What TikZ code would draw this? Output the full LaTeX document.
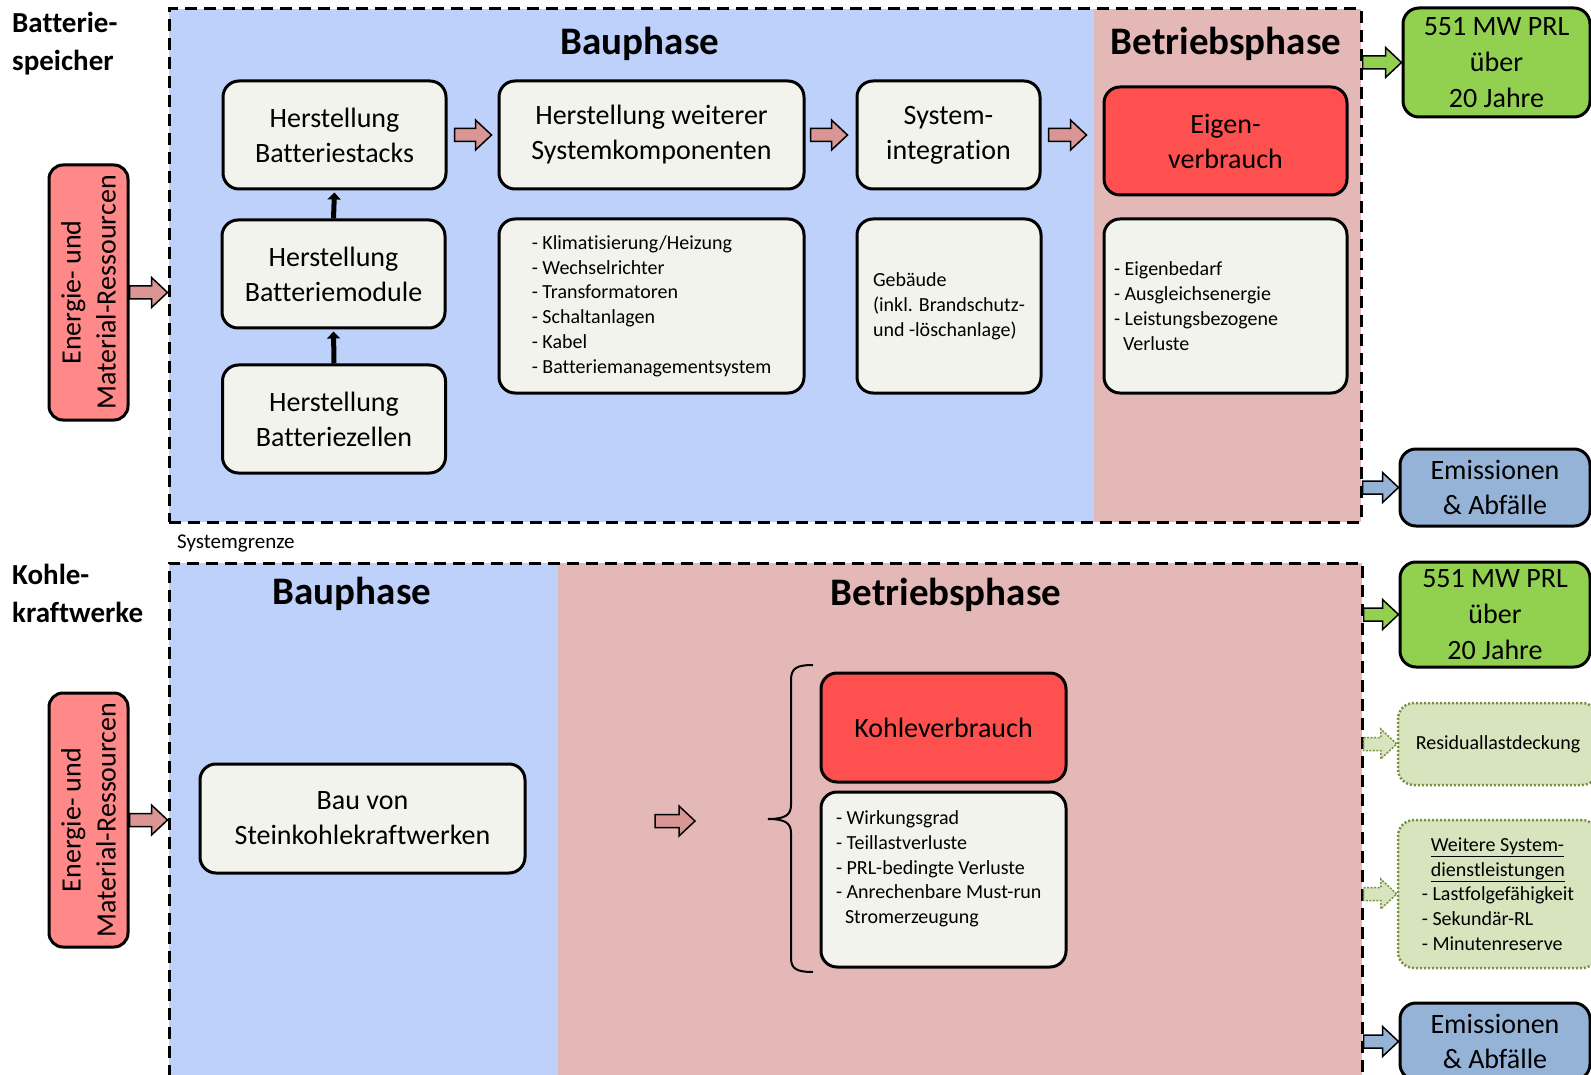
\documentclass[tikz,border=0pt]{standalone}
\usepackage{fontspec}
\setmainfont{Carlito}[Ligatures=NoCommon]
\usetikzlibrary{calc,arrows.meta}

\definecolor{bluebg}{RGB}{190,209,250}
\definecolor{pinkbg}{RGB}{229,184,184}
\definecolor{boxfill}{RGB}{243,243,237}
\definecolor{enfill}{RGB}{255,136,136}
\definecolor{redfill}{RGB}{255,80,80}
\definecolor{grfill}{RGB}{146,208,80}
\definecolor{emfill}{RGB}{149,179,215}
\definecolor{arrpink}{RGB}{217,150,148}
\definecolor{ltgreen}{RGB}{215,228,189}
\definecolor{olivedot}{RGB}{118,146,60}

\tikzset{
  box/.style={draw=black, line width=3pt, rounded corners=16pt, fill=boxfill,
    align=center, inner sep=0pt, font=\fontsize{28}{35}\selectfont},
  listbox/.style={box, align=flush left, font=\fontsize{20}{24.8}\selectfont},
  redbox/.style={box, fill=redfill},
  enbox/.style={box, fill=enfill, rounded corners=14pt},
  grbox/.style={box, fill=grfill, font=\fontsize{28}{36}\selectfont},
  embox/.style={box, fill=emfill},
  dotbox/.style={draw=olivedot, line width=2.5pt, dash pattern=on 2pt off 2pt,
    rounded corners=16pt, fill=ltgreen, align=flush left, inner sep=0pt,
    font=\fontsize{20}{24.8}\selectfont},
  sysbox/.style={draw=black, line width=3pt, dash pattern=on 12pt off 7pt, inner sep=0pt},
  ttl/.style={font=\bfseries\fontsize{39}{42}\selectfont, inner sep=0pt},
  side/.style={font=\bfseries\fontsize{29}{38}\selectfont, align=flush left, inner sep=0pt},
  parr/.style={fill=arrpink, draw=black, line width=1.5pt},
  garr/.style={fill=grfill, draw=black, line width=1.5pt},
  barr/.style={fill=emfill, draw=black, line width=1.5pt},
  darr/.style={fill=ltgreen, draw=olivedot, line width=1.5pt, dash pattern=on 2pt off 1.5pt},
  blk/.style={line width=5pt, shorten >=2pt, -{Triangle[width=13pt,length=7pt]}}
}

\newcommand\blockarr[3]{\path[#1] let \p1=(#2), \p2=(#3) in
  (\x1,\y1+6.5pt) -- (\x2-16pt,\y1+6.5pt) -- (\x2-16pt,\y1+15pt) -- (\x2,\y1)
  -- (\x2-16pt,\y1-15pt) -- (\x2-16pt,\y1-6.5pt) -- (\x1,\y1-6.5pt) -- cycle;}

\begin{document}
\begin{tikzpicture}[x=1pt,y=-1pt]
\useasboundingbox (0,0) rectangle (1591,1075);

% backgrounds
\fill[bluebg] (169,9) rectangle (1094,522);
\fill[pinkbg] (1094,9) rectangle (1361,522);
\fill[bluebg] (169,563) rectangle (558,1095);
\fill[pinkbg] (558,563) rectangle (1362,1095);
\node[sysbox, minimum width=1192pt, minimum height=513pt] (sys1) at (765,265.5) {};
\node[sysbox, minimum width=1193pt, minimum height=532pt] (sys2) at (765.5,829) {};

% side labels
\node[side, anchor=west] (lb1) at (12,44) {Batterie-\\speicher};
\node[side, anchor=west] (lb2) at (12,593) {Kohle-\\kraftwerke};
\node[anchor=west, inner sep=0pt, font=\fontsize{21}{24}\selectfont] (sg) at (177,543) {Systemgrenze};

% titles
\node[ttl] (t1) at (640,44) {Bauphase};
\node[ttl] (t2) at (1226,44) {Betriebsphase};
\node[ttl] (t3) at (352,594) {Bauphase};
\node[ttl] (t4) at (946,595) {Betriebsphase};

% top section
\node[box, minimum width=223pt, minimum height=108pt] (stacks) at (334.5,135) {Herstellung\\Batteriestacks};
\node[box, minimum width=223pt, minimum height=108pt] (mod) at (333.5,274) {Herstellung\\Batteriemodule};
\node[box, minimum width=223pt, minimum height=108pt] (zel) at (334,419) {Herstellung\\Batteriezellen};
\node[box, minimum width=305pt, minimum height=108pt] (weit) at (651.5,135) {Herstellung weiterer\\Systemkomponenten};
\node[box, minimum width=183pt, minimum height=108pt] (sysint) at (948.5,135) {System-\\integration};
\node[redbox, minimum width=243pt, minimum height=108pt] (eigen) at (1225.5,141) {Eigen-\\verbrauch};

\node[listbox, minimum width=305pt, minimum height=174pt] (list1) at (651.5,306)
  {- Klimatisierung/Heizung\\- Wechselrichter\\- Transformatoren\\- Schaltanlagen\\- Kabel\\- Batteriemanagementsystem};
\node[listbox, minimum width=184pt, minimum height=174pt] (geb) at (949,306)
  {Gebäude\\(inkl. Brandschutz-\\und -löschanlage)};
\node[listbox, minimum width=243pt, minimum height=174pt, text width=223pt, inner xsep=10pt] (elist) at (1225.5,306)
  {- Eigenbedarf\\- Ausgleichsenergie\\- Leistungsbezogene\\\hspace*{9pt}Verluste};

\node[enbox, rotate=90, minimum width=255pt, minimum height=79pt] (en1) at (88.5,292.5) {Energie- und\\Material-Ressourcen};

\node[grbox, minimum width=187pt, minimum height=109pt] (g1) at (1496.5,62.5) {551 MW PRL\\über\\20 Jahre};
\node[embox, minimum width=190pt, minimum height=77pt] (em1) at (1495,487.5) {Emissionen\\\& Abfälle};

% top arrows
\draw[blk] (mod.north) -- (stacks.south);
\draw[blk] (zel.north) -- (mod.south);
\blockarr{parr}{$(stacks.east)+(7,0)$}{$(weit.west)+(-6,0)$}
\blockarr{parr}{$(weit.east)+(5,0)$}{$(sysint.west)+(-8,0)$}
\blockarr{parr}{$(sysint.east)+(7,0)$}{$(eigen.west)+(-16,0)$}
\blockarr{parr}{en1.south}{sys1.west |- en1.south}
\blockarr{garr}{sys1.east |- g1.west}{g1.west}
\blockarr{barr}{sys1.east |- em1.west}{em1.west}

% bottom section
\node[enbox, rotate=90, minimum width=254pt, minimum height=79pt] (en2) at (88.5,820) {Energie- und\\Material-Ressourcen};
\node[box, minimum width=325pt, minimum height=109pt] (bau) at (362.5,818.5) {Bau von\\Steinkohlekraftwerken};
\node[redbox, minimum width=245pt, minimum height=109pt] (kohle) at (943.5,727.5) {Kohleverbrauch};
\node[listbox, minimum width=245pt, minimum height=175pt, text width=215pt, inner xsep=15pt] (klist) at (943.5,879.5)
  {- Wirkungsgrad\\- Teillastverluste\\- PRL-bedingte Verluste\\- Anrechenbare Must-run\\\hspace*{9pt}Stromerzeugung\\\mbox{}};

\node[grbox, minimum width=190pt, minimum height=105pt] (g2) at (1495,614.5) {551 MW PRL\\über\\20 Jahre};
\node[dotbox, minimum width=200pt, minimum height=82pt] (res) at (1498,744) {Residuallastdeckung};
\node[dotbox, minimum width=200pt, minimum height=148pt] (ws) at (1498,894)
  {\hspace*{9pt}\underline{Weitere System-}\\\hspace*{9pt}\underline{dienstleistungen}\\- Lastfolgefähigkeit\\- Sekundär-RL\\- Minutenreserve};
\node[embox, minimum width=190pt, minimum height=77pt] (em2) at (1495,1041.5) {Emissionen\\\& Abfälle};

\coordinate (sa) at (655,821);
\coordinate (sb) at (695,821);
\blockarr{parr}{sa}{sb}
\blockarr{parr}{en2.south}{sys2.west |- en2.south}
\blockarr{garr}{sys2.east |- g2.west}{g2.west}
\blockarr{darr}{sys2.east |- res.west}{res.west}
\blockarr{darr}{sys2.east |- ws.west}{ws.west}
\blockarr{barr}{sys2.east |- em2.west}{em2.west}

% brace
\draw[line width=2pt] (813,665) .. controls (797,665) and (791,668) .. (791,680) -- (791,805)
  .. controls (791,815) and (785,819) .. (768,819)
  .. controls (785,819) and (791,823) .. (791,833) -- (791,958)
  .. controls (791,969) and (797,972) .. (813,972);
\end{tikzpicture}
\end{document}
